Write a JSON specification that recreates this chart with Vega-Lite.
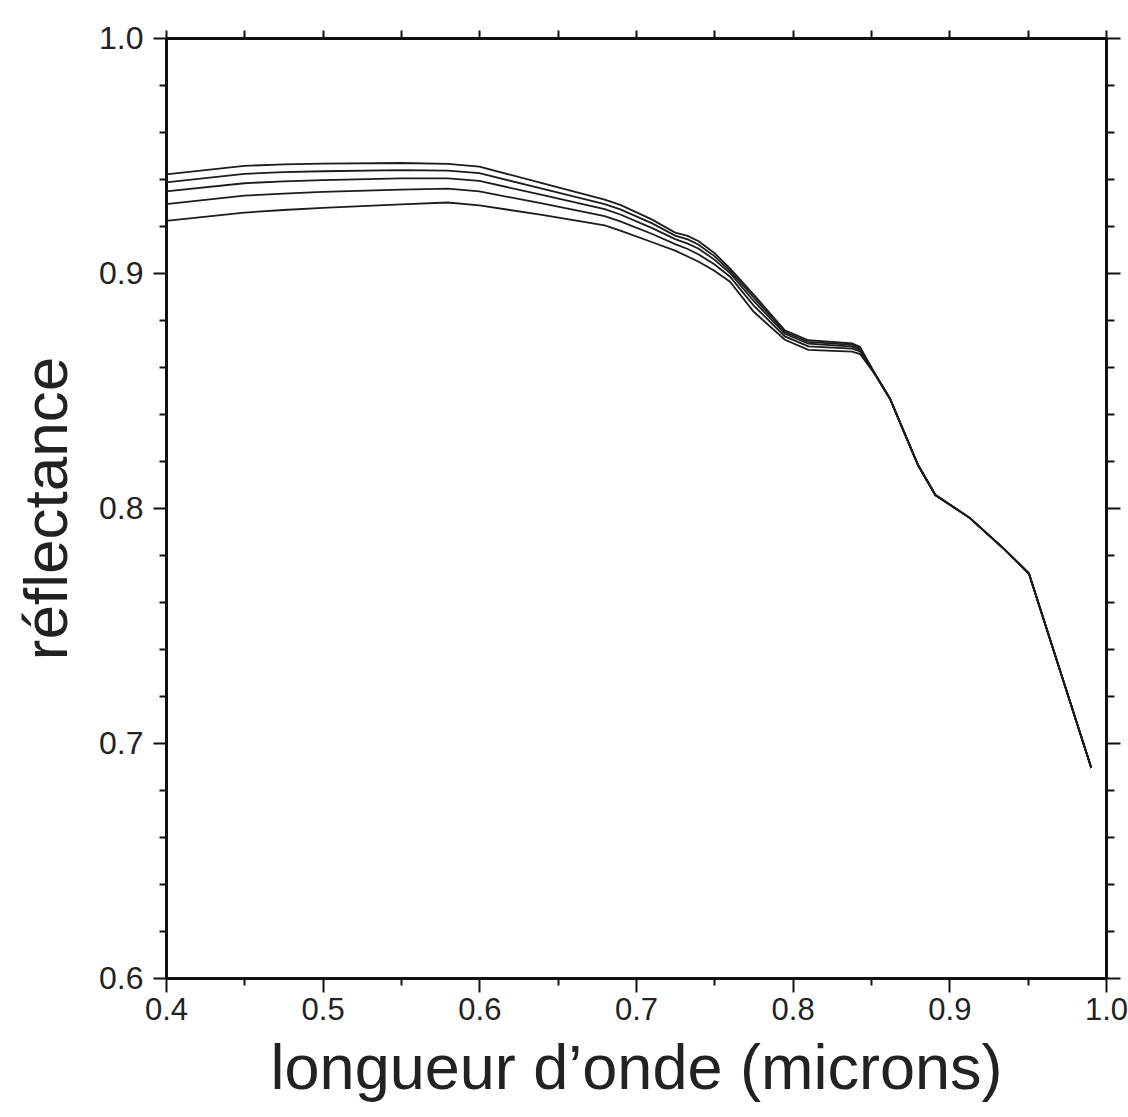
{
  "$schema": "https://vega.github.io/schema/vega-lite/v6.json",
  "width": 940,
  "height": 940,
  "autosize": {"type": "none"},
  "padding": {"left": 166, "top": 38, "right": 22, "bottom": 139},
  "background": "white",
  "config": {
    "view": {"stroke": null},
    "font": "Liberation Sans",
    "axis": {"domainColor": "#111", "domainWidth": 3, "tickColor": "#111", "tickWidth": 2, "grid": false, "labelColor": "#222", "titleColor": "#222", "labelFont": "Liberation Sans", "titleFont": "Liberation Sans", "titleFontWeight": "normal"}
  },
  "datasets": {
    "spectra": [
      {"w":0.40,"r":0.9420,"s":"a"},{"w":0.45,"r":0.9456,"s":"a"},{"w":0.475,"r":0.9462,"s":"a"},{"w":0.50,"r":0.9465,"s":"a"},{"w":0.55,"r":0.9468,"s":"a"},{"w":0.58,"r":0.9464,"s":"a"},{"w":0.60,"r":0.9453,"s":"a"},{"w":0.64,"r":0.9382,"s":"a"},{"w":0.68,"r":0.9312,"s":"a"},{"w":0.69,"r":0.9290,"s":"a"},{"w":0.71,"r":0.9228,"s":"a"},{"w":0.725,"r":0.9172,"s":"a"},{"w":0.733,"r":0.9158,"s":"a"},{"w":0.74,"r":0.9135,"s":"a"},{"w":0.75,"r":0.9085,"s":"a"},{"w":0.76,"r":0.9020,"s":"a"},{"w":0.775,"r":0.8909,"s":"a"},{"w":0.795,"r":0.8756,"s":"a"},{"w":0.81,"r":0.8714,"s":"a"},{"w":0.838,"r":0.8700,"s":"a"},{"w":0.843,"r":0.8685,"s":"a"},
      {"w":0.8533,"r":0.8562,"s":"a"},{"w":0.8622,"r":0.8464,"s":"a"},{"w":0.8711,"r":0.8323,"s":"a"},{"w":0.8801,"r":0.8182,"s":"a"},{"w":0.8911,"r":0.8055,"s":"a"},{"w":0.913,"r":0.7958,"s":"a"},{"w":0.935,"r":0.7825,"s":"a"},{"w":0.9508,"r":0.7721,"s":"a"},{"w":0.9906,"r":0.6894,"s":"a"},
      {"w":0.40,"r":0.9386,"s":"b"},{"w":0.45,"r":0.9422,"s":"b"},{"w":0.475,"r":0.9429,"s":"b"},{"w":0.50,"r":0.9433,"s":"b"},{"w":0.55,"r":0.9438,"s":"b"},{"w":0.58,"r":0.9436,"s":"b"},{"w":0.60,"r":0.9425,"s":"b"},{"w":0.64,"r":0.9359,"s":"b"},{"w":0.68,"r":0.9293,"s":"b"},{"w":0.69,"r":0.9271,"s":"b"},{"w":0.71,"r":0.9212,"s":"b"},{"w":0.725,"r":0.9159,"s":"b"},{"w":0.733,"r":0.9143,"s":"b"},{"w":0.74,"r":0.9120,"s":"b"},{"w":0.75,"r":0.9072,"s":"b"},{"w":0.76,"r":0.9010,"s":"b"},{"w":0.775,"r":0.8897,"s":"b"},{"w":0.795,"r":0.8749,"s":"b"},{"w":0.81,"r":0.8707,"s":"b"},{"w":0.838,"r":0.8694,"s":"b"},{"w":0.843,"r":0.8680,"s":"b"},
      {"w":0.8533,"r":0.8562,"s":"b"},{"w":0.8622,"r":0.8464,"s":"b"},{"w":0.8711,"r":0.8323,"s":"b"},{"w":0.8801,"r":0.8182,"s":"b"},{"w":0.8911,"r":0.8055,"s":"b"},{"w":0.913,"r":0.7958,"s":"b"},{"w":0.935,"r":0.7825,"s":"b"},{"w":0.9508,"r":0.7721,"s":"b"},{"w":0.9906,"r":0.6894,"s":"b"},
      {"w":0.40,"r":0.9347,"s":"c"},{"w":0.45,"r":0.9382,"s":"c"},{"w":0.475,"r":0.9390,"s":"c"},{"w":0.50,"r":0.9395,"s":"c"},{"w":0.55,"r":0.9403,"s":"c"},{"w":0.58,"r":0.9403,"s":"c"},{"w":0.60,"r":0.9392,"s":"c"},{"w":0.64,"r":0.9332,"s":"c"},{"w":0.68,"r":0.9272,"s":"c"},{"w":0.69,"r":0.9249,"s":"c"},{"w":0.71,"r":0.9192,"s":"c"},{"w":0.725,"r":0.9144,"s":"c"},{"w":0.733,"r":0.9125,"s":"c"},{"w":0.74,"r":0.9103,"s":"c"},{"w":0.75,"r":0.9057,"s":"c"},{"w":0.76,"r":0.9000,"s":"c"},{"w":0.775,"r":0.8882,"s":"c"},{"w":0.795,"r":0.8741,"s":"c"},{"w":0.81,"r":0.8699,"s":"c"},{"w":0.838,"r":0.8687,"s":"c"},{"w":0.843,"r":0.8674,"s":"c"},
      {"w":0.8533,"r":0.8562,"s":"c"},{"w":0.8622,"r":0.8464,"s":"c"},{"w":0.8711,"r":0.8323,"s":"c"},{"w":0.8801,"r":0.8182,"s":"c"},{"w":0.8911,"r":0.8055,"s":"c"},{"w":0.913,"r":0.7958,"s":"c"},{"w":0.935,"r":0.7825,"s":"c"},{"w":0.9508,"r":0.7721,"s":"c"},{"w":0.9906,"r":0.6894,"s":"c"},
      {"w":0.40,"r":0.9293,"s":"d"},{"w":0.45,"r":0.9329,"s":"d"},{"w":0.475,"r":0.9338,"s":"d"},{"w":0.50,"r":0.9345,"s":"d"},{"w":0.55,"r":0.9355,"s":"d"},{"w":0.58,"r":0.9359,"s":"d"},{"w":0.60,"r":0.9347,"s":"d"},{"w":0.64,"r":0.9296,"s":"d"},{"w":0.68,"r":0.9242,"s":"d"},{"w":0.69,"r":0.9220,"s":"d"},{"w":0.71,"r":0.9167,"s":"d"},{"w":0.725,"r":0.9123,"s":"d"},{"w":0.733,"r":0.9102,"s":"d"},{"w":0.74,"r":0.9079,"s":"d"},{"w":0.75,"r":0.9037,"s":"d"},{"w":0.76,"r":0.8984,"s":"d"},{"w":0.775,"r":0.8862,"s":"d"},{"w":0.795,"r":0.8730,"s":"d"},{"w":0.81,"r":0.8688,"s":"d"},{"w":0.838,"r":0.8678,"s":"d"},{"w":0.843,"r":0.8666,"s":"d"},
      {"w":0.8533,"r":0.8562,"s":"d"},{"w":0.8622,"r":0.8464,"s":"d"},{"w":0.8711,"r":0.8323,"s":"d"},{"w":0.8801,"r":0.8182,"s":"d"},{"w":0.8911,"r":0.8055,"s":"d"},{"w":0.913,"r":0.7958,"s":"d"},{"w":0.935,"r":0.7825,"s":"d"},{"w":0.9508,"r":0.7721,"s":"d"},{"w":0.9906,"r":0.6894,"s":"d"},
      {"w":0.40,"r":0.9222,"s":"e"},{"w":0.45,"r":0.9257,"s":"e"},{"w":0.475,"r":0.9268,"s":"e"},{"w":0.50,"r":0.9277,"s":"e"},{"w":0.55,"r":0.9292,"s":"e"},{"w":0.58,"r":0.9300,"s":"e"},{"w":0.60,"r":0.9288,"s":"e"},{"w":0.64,"r":0.9247,"s":"e"},{"w":0.68,"r":0.9203,"s":"e"},{"w":0.69,"r":0.9180,"s":"e"},{"w":0.71,"r":0.9132,"s":"e"},{"w":0.725,"r":0.9095,"s":"e"},{"w":0.733,"r":0.9070,"s":"e"},{"w":0.74,"r":0.9048,"s":"e"},{"w":0.75,"r":0.9010,"s":"e"},{"w":0.76,"r":0.8963,"s":"e"},{"w":0.775,"r":0.8836,"s":"e"},{"w":0.795,"r":0.8716,"s":"e"},{"w":0.81,"r":0.8673,"s":"e"},{"w":0.838,"r":0.8665,"s":"e"},{"w":0.843,"r":0.8655,"s":"e"},
      {"w":0.8533,"r":0.8562,"s":"e"},{"w":0.8622,"r":0.8464,"s":"e"},{"w":0.8711,"r":0.8323,"s":"e"},{"w":0.8801,"r":0.8182,"s":"e"},{"w":0.8911,"r":0.8055,"s":"e"},{"w":0.913,"r":0.7958,"s":"e"},{"w":0.935,"r":0.7825,"s":"e"},{"w":0.9508,"r":0.7721,"s":"e"},{"w":0.9906,"r":0.6894,"s":"e"}
    ]
  },
  "data": {"name": "spectra"},
  "layer": [
    {
      "mark": {"type": "line", "color": "#1c1c1c", "strokeWidth": 1.8, "interpolate": "linear"},
      "encoding": {
        "x": {"field": "w", "type": "quantitative",
          "scale": {"domain": [0.4, 1.0], "nice": false, "zero": false},
          "axis": {"orient": "bottom", "values": [0.4,0.45,0.5,0.55,0.6,0.65,0.7,0.75,0.8,0.85,0.9,0.95,1.0],
            "tickSize": {"condition": {"test": "abs(datum.value*10 - round(datum.value*10)) < 0.001", "value": 14}, "value": 7},
            "labelExpr": "abs(datum.value*10 - round(datum.value*10)) < 0.001 ? format(datum.value, '.1f') : ''",
            "labelOverlap": false, "labelFlush": false, "labelBound": false,
            "labelFontSize": 31, "labelPadding": 3,
            "title": "longueur d’onde (microns)", "titleFontSize": 63,
            "titleX": 470, "titleY": 110, "titleBaseline": "alphabetic", "titleAlign": "center"}},
        "y": {"field": "r", "type": "quantitative",
          "scale": {"domain": [0.6, 1.0], "nice": false, "zero": false},
          "axis": {"orient": "left", "values": [0.6,0.62,0.64,0.66,0.68,0.7,0.72,0.74,0.76,0.78,0.8,0.82,0.84,0.86,0.88,0.9,0.92,0.94,0.96,0.98,1.0],
            "tickSize": {"condition": {"test": "abs(datum.value*10 - round(datum.value*10)) < 0.001", "value": 13}, "value": 7},
            "labelExpr": "abs(datum.value*10 - round(datum.value*10)) < 0.001 ? format(datum.value, '.1f') : ''",
            "labelOverlap": false, "labelFlush": false, "labelBound": false,
            "labelFontSize": 32, "labelPadding": 10,
            "title": "réflectance", "titleFontSize": 62,
            "titleX": -100, "titleY": 470, "titleAngle": -90, "titleBaseline": "alphabetic", "titleAlign": "center"}},
        "detail": {"field": "s", "type": "nominal"}
      }
    },
    {
      "mark": {"type": "line", "strokeOpacity": 0},
      "encoding": {
        "x": {"field": "w", "type": "quantitative",
          "axis": {"orient": "top", "values": [0.4,0.45,0.5,0.55,0.6,0.65,0.7,0.75,0.8,0.85,0.9,0.95,1.0],
            "tickSize": 8, "labels": false, "title": null}},
        "y": {"field": "r", "type": "quantitative",
          "axis": {"orient": "right", "values": [0.6,0.62,0.64,0.66,0.68,0.7,0.72,0.74,0.76,0.78,0.8,0.82,0.84,0.86,0.88,0.9,0.92,0.94,0.96,0.98,1.0],
            "tickSize": {"condition": {"test": "abs(datum.value*10 - round(datum.value*10)) < 0.001", "value": 14}, "value": 8},
            "labels": false, "title": null}},
        "detail": {"field": "s", "type": "nominal"}
      }
    }
  ],
  "resolve": {"axis": {"x": "independent", "y": "independent"}}
}
